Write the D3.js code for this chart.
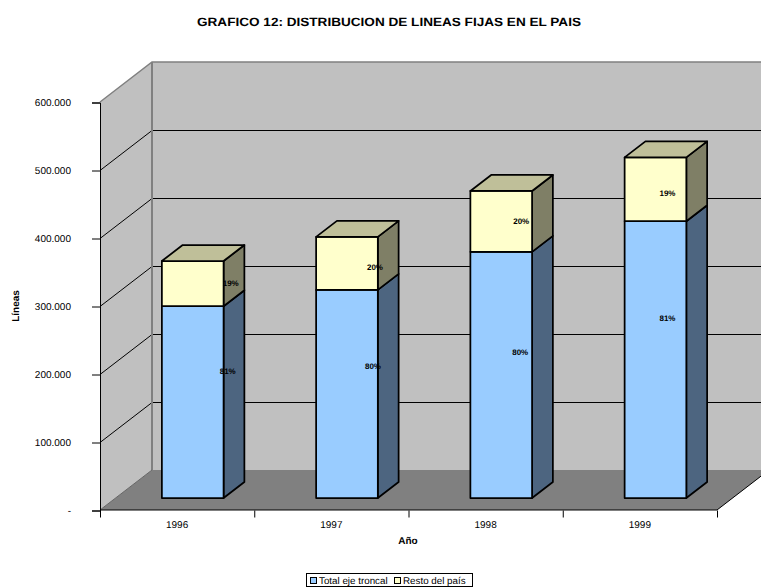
<!DOCTYPE html>
<html>
<head>
<meta charset="utf-8">
<script src="https://cdn.jsdelivr.net/npm/d3@7"></script>
<style>
  html, body { margin: 0; padding: 0; background: #fff; overflow: hidden; }
  text { font-family: "Liberation Sans", Arial, sans-serif; fill: #000; text-rendering: geometricPrecision; }
</style>
</head>
<body>
<svg id="chart" width="761" height="588"></svg>
<script>
// Lines per year, stacked bottom to top
const years = ["1996", "1997", "1998", "1999"];
const trunkLines = [282000, 306000, 362000, 407000];
const restLines = [66500, 78000, 89500, 94000];
const trunkShare = ["81%", "80%", "80%", "81%"];
const restShare = ["19%", "20%", "20%", "19%"];
const seriesNames = ["Total eje troncal", "Resto del país"];
const valueTicks = [0, 100000, 200000, 300000, 400000, 500000, 600000];

// Label nudges, in pixels from the centre of each bar segment
const trunkNudge = [[35, -31], [26, -28], [19, -23], [12, -42]];
const restNudge = [[38, -1], [28, 4], [20, 0], [12, 4]];

const WALL = "#c0c0c0", FLOOR = "#808080";
const FONT = '"Liberation Sans", Arial, sans-serif';
const faces = [
  { front: "#99ccff", side: "#4d6580", top: "#7aa3cc" },
  { front: "#ffffcc", side: "#7f7f66", top: "#bfbf99" }
];

const svg = d3.select("#chart");
const y = d3.scaleLinear().domain([0, 600000]).range([510, 102]);
const x = d3.scaleBand().domain(years).range([100, 717]).paddingInner(0.6).paddingOuter(0.3);
const band = d3.scaleBand().domain(years).range([100, 717]);
const tickPos = d3.scaleLinear().domain([0, years.length]).range([100, 717]);

// Oblique projection: depth 0 is the front plane, depth 1 the back wall
const dx = d3.scaleLinear().domain([0, 1]).range([0, 52]);
const dy = d3.scaleLinear().domain([0, 1]).range([0, -40]);
const pt = (px, value, depth) => [px + dx(depth), y(value) + dy(depth)];
const poly = pts => "M" + pts.map(p => p.join(",")).join("L") + "Z";
const line = pts => "M" + pts.map(p => p.join(",")).join("L");
const xEnd = 717; // the back wall runs off the right edge of the page
const maxValue = 600000;

// Walls and floor
svg.append("path").attr("fill", WALL).attr("d", poly([pt(100, maxValue, 1), pt(xEnd, maxValue, 1), pt(xEnd, 0, 1), pt(100, 0, 1)]));
svg.append("path").attr("fill", WALL).attr("d", poly([pt(100, maxValue, 0), pt(100, maxValue, 1), pt(100, 0, 1), pt(100, 0, 0)]));
svg.append("path").attr("fill", FLOOR).attr("d", poly([pt(100, 0, 0), pt(xEnd, 0, 0), pt(xEnd, 0, 1), pt(100, 0, 1)]));

// Gridlines across the side and back walls
svg.append("g").attr("transform", "translate(0,0.5)").selectAll("path").data(valueTicks.slice(1, -1)).join("path")
  .attr("fill", "none").attr("stroke", "#000").attr("stroke-width", 1)
  .attr("d", v => line([pt(100, v, 0), pt(100, v, 1), pt(xEnd, v, 1)]));

// Grey wall edges
svg.append("path").attr("fill", "none").attr("stroke", FLOOR).attr("stroke-width", 1.5)
  .attr("d", line([pt(100, maxValue, 0), pt(100, maxValue, 1), pt(xEnd, maxValue, 1)]));
svg.append("path").attr("fill", "none").attr("stroke", FLOOR).attr("stroke-width", 2)
  .attr("d", line([pt(100, maxValue, 1), pt(100, 0, 1)]));
svg.append("path").attr("fill", "none").attr("stroke", "#666").attr("stroke-width", 1)
  .attr("d", line([pt(100, 0, 0), pt(100, 0, 1)]));

// Floor's front edge and its return on the right
svg.append("path").attr("fill", "none").attr("stroke", "#000").attr("stroke-width", 1)
  .attr("d", line([pt(100, 0, 0), pt(xEnd, 0, 0), pt(xEnd, 0, 1)]));

// Value axis
const yAxis = d3.axisLeft(y).tickValues(valueTicks).tickSize(8).tickPadding(21)
  .tickFormat(v => v === 0 ? "-" : d3.format(",")(v).replace(/,/g, "."));
const yG = svg.append("g").attr("transform", "translate(100,0.5)").call(yAxis);
yG.selectAll("text").attr("font-size", 10).style("font-family", FONT);

// Category axis: ticks sit between bars, labels in the middle of each band
const xTicks = d3.axisBottom(tickPos).tickValues(d3.range(years.length + 1)).tickSize(7).tickFormat("");
svg.append("g").attr("transform", "translate(0,510.5)").call(xTicks).select(".domain").remove();
const xLabels = d3.axisBottom(band).tickSize(0).tickPadding(11);
const xG = svg.append("g").attr("transform", "translate(0,510)").call(xLabels);
xG.select(".domain").remove();
xG.selectAll("text").attr("font-size", 10).style("font-family", FONT);

// Stacked bars, occupying depth 0.3 to 0.7
const nearD = 0.3, farD = 0.7;
years.forEach((yr, i) => {
  const g = svg.append("g").attr("stroke", "#000").attr("stroke-width", 1.75).attr("stroke-linejoin", "round");
  const x0 = x(yr), x1 = x0 + x.bandwidth();
  const segs = [[0, trunkLines[i]], [trunkLines[i], trunkLines[i] + restLines[i]]];
  segs.forEach(([a, b], s) => {
    g.append("path").attr("fill", faces[s].side)
      .attr("d", poly([pt(x1, a, nearD), pt(x1, a, farD), pt(x1, b, farD), pt(x1, b, nearD)]));
    g.append("path").attr("fill", faces[s].front)
      .attr("d", poly([pt(x0, a, nearD), pt(x1, a, nearD), pt(x1, b, nearD), pt(x0, b, nearD)]));
    if (s === segs.length - 1) {
      g.append("path").attr("fill", faces[s].top)
        .attr("d", poly([pt(x0, b, nearD), pt(x1, b, nearD), pt(x1, b, farD), pt(x0, b, farD)]));
    }
  });
});

// Share labels
function shareLabels(texts, base, vals, nudge) {
  svg.append("g").selectAll("text").data(years).join("text")
    .attr("text-anchor", "middle").attr("font-size", 8).attr("font-weight", "bold")
    .attr("x", (yr, i) => x(yr) + x.bandwidth() / 2 + dx(nearD) + nudge[i][0])
    .attr("y", (yr, i) => y(base[i] + vals[i] / 2) + dy(nearD) + nudge[i][1] + 3)
    .text((yr, i) => texts[i]);
}
shareLabels(trunkShare, years.map(() => 0), trunkLines, trunkNudge);
shareLabels(restShare, trunkLines, restLines, restNudge);

// Titles
svg.append("text").attr("x", 389).attr("y", 26).attr("text-anchor", "middle")
  .attr("font-size", 12).attr("font-weight", "bold")
  .attr("textLength", 384).attr("lengthAdjust", "spacingAndGlyphs")
  .text("GRAFICO 12: DISTRIBUCION DE LINEAS FIJAS EN EL PAIS");
svg.append("text").attr("transform", "translate(19,306) rotate(-90)").attr("text-anchor", "middle")
  .attr("font-size", 10).attr("font-weight", "bold").text("Líneas");
svg.append("text").attr("x", 408).attr("y", 544).attr("text-anchor", "middle")
  .attr("font-size", 10).attr("font-weight", "bold").text("Año");

// Legend
const legend = svg.append("g");
legend.append("rect").attr("x", 306.5).attr("y", 573.5).attr("width", 166).attr("height", 13)
  .attr("fill", "#fff").attr("stroke", "#000");
const legendX = [310, 394];
seriesNames.forEach((name, i) => {
  legend.append("rect").attr("x", legendX[i] + 0.5).attr("y", 577.5).attr("width", 6).attr("height", 6)
    .attr("fill", faces[i].front).attr("stroke", "#000");
  legend.append("text").attr("x", legendX[i] + 9).attr("y", 584).attr("font-size", 9.8).text(name);
});
</script>
</body>
</html>
